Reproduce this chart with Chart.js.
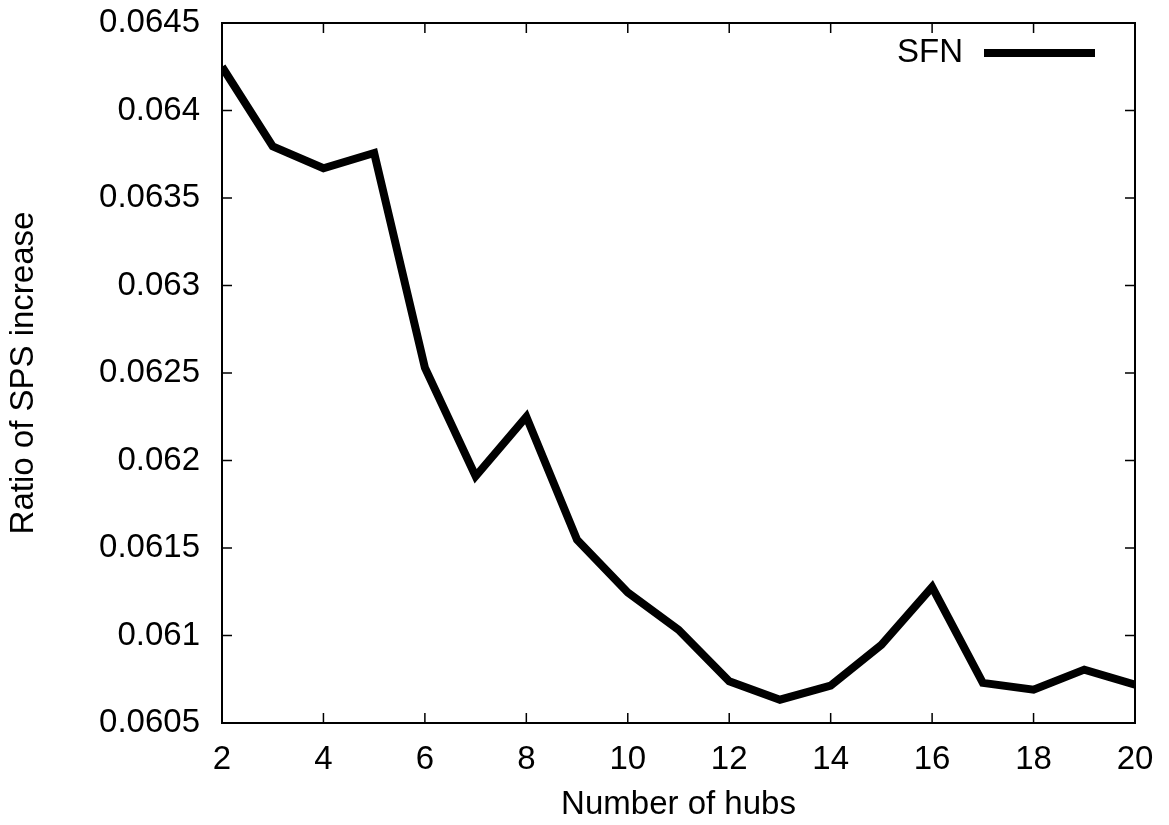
<!DOCTYPE html>
<html>
<head>
<meta charset="utf-8">
<script src="https://cdn.jsdelivr.net/npm/chart.js@4/dist/chart.umd.min.js"></script>
<style>
  html, body { margin: 0; padding: 0; background: #fff; }
  canvas { display: block; }
</style>
</head>
<body>
<canvas id="hubChart" width="1169" height="825"></canvas>
<script>
const hubs = [2, 3, 4, 5, 6, 7, 8, 9, 10, 11, 12, 13, 14, 15, 16, 17, 18, 19, 20];
const sfn = [0.06425, 0.063795, 0.06367, 0.063757, 0.06253, 0.06191, 0.06225, 0.061547, 0.061246,
    0.061033, 0.060738, 0.060633, 0.060713, 0.060947, 0.061277, 0.060729, 0.06069, 0.060805, 0.060719];

const xTicks = [2, 4, 6, 8, 10, 12, 14, 16, 18, 20];
const yTicks = [0.0605, 0.061, 0.0615, 0.062, 0.0625, 0.063, 0.0635, 0.064, 0.0645];

const FONT = "'Liberation Sans', Arial, Helvetica, sans-serif";
const FONT_SIZE = 33;
const TICK_LEN = 10;

// gnuplot-like box: frame on all four sides, ticks pointing inward, key in the top right
const framePlugin = {
    id: "frame",
    afterDatasetsDraw(chart) {
        const { ctx, chartArea: a, scales } = chart;
        ctx.save();
        ctx.strokeStyle = "#000";

        ctx.lineWidth = 1.5;
        ctx.beginPath();
        scales.x.ticks.forEach(t => {
            let px = scales.x.getPixelForValue(t.value);
            ctx.moveTo(px, a.bottom); ctx.lineTo(px, a.bottom - TICK_LEN);
            ctx.moveTo(px, a.top); ctx.lineTo(px, a.top + TICK_LEN);
        });
        scales.y.ticks.forEach(t => {
            let py = scales.y.getPixelForValue(t.value);
            ctx.moveTo(a.left, py); ctx.lineTo(a.left + TICK_LEN, py);
            ctx.moveTo(a.right, py); ctx.lineTo(a.right - TICK_LEN, py);
        });
        ctx.stroke();

        ctx.lineWidth = 2;
        ctx.strokeRect(a.left, a.top, a.right - a.left, a.bottom - a.top);

        // key
        const ds = chart.data.datasets[0];
        const keyY = a.top + 30;
        const lineEnd = a.right - 40;
        const lineStart = lineEnd - 111;
        ctx.fillStyle = "#000";
        ctx.font = FONT_SIZE + "px " + FONT;
        ctx.textAlign = "right";
        ctx.textBaseline = "middle";
        ctx.fillText(ds.label, lineStart - 21, keyY);
        ctx.lineWidth = ds.borderWidth;
        ctx.beginPath();
        ctx.moveTo(lineStart, keyY);
        ctx.lineTo(lineEnd, keyY);
        ctx.stroke();

        ctx.restore();
    }
};

new Chart(document.getElementById("hubChart"), {
    type: "line",
    data: {
        datasets: [{
            label: "SFN",
            data: hubs.map((h, i) => ({ x: h, y: sfn[i] })),
            borderColor: "#000",
            borderWidth: 8,
            borderJoinStyle: "miter",
            pointRadius: 0,
            tension: 0,
            fill: false,
            clip: 0
        }]
    },
    options: {
        responsive: false,
        animation: false,
        events: [],
        layout: {
            padding: { top: 23, right: 34, bottom: 0, left: 0 }
        },
        plugins: {
            legend: { display: false },
            tooltip: { enabled: false }
        },
        scales: {
            x: {
                type: "linear",
                min: 2,
                max: 20,
                grid: { display: false, drawTicks: false },
                border: { display: false },
                afterBuildTicks: s => { s.ticks = xTicks.map(v => ({ value: v })); },
                afterFit: s => { s.height = 102; s.paddingLeft = 0; s.paddingRight = 0; },
                ticks: {
                    color: "#000",
                    padding: 17,
                    maxRotation: 0,
                    font: { family: FONT, size: FONT_SIZE },
                    callback: v => String(v)
                },
                title: {
                    display: true,
                    text: "Number of hubs",
                    color: "#000",
                    font: { family: FONT, size: FONT_SIZE },
                    padding: { top: 0, bottom: 0 }
                }
            },
            y: {
                type: "linear",
                min: 0.0605,
                max: 0.0645,
                grid: { display: false, drawTicks: false },
                border: { display: false },
                afterBuildTicks: s => { s.ticks = yTicks.map(v => ({ value: v })); },
                afterFit: s => { s.width = 222; s.paddingTop = 0; s.paddingBottom = 0; },
                ticks: {
                    color: "#000",
                    padding: 22,
                    font: { family: FONT, size: FONT_SIZE },
                    callback: v => String(+v.toFixed(4))
                },
                title: {
                    display: true,
                    text: "Ratio of SPS increase",
                    color: "#000",
                    font: { family: FONT, size: FONT_SIZE },
                    padding: { top: 4, bottom: 0 }
                }
            }
        }
    },
    plugins: [framePlugin]
});
</script>
</body>
</html>
